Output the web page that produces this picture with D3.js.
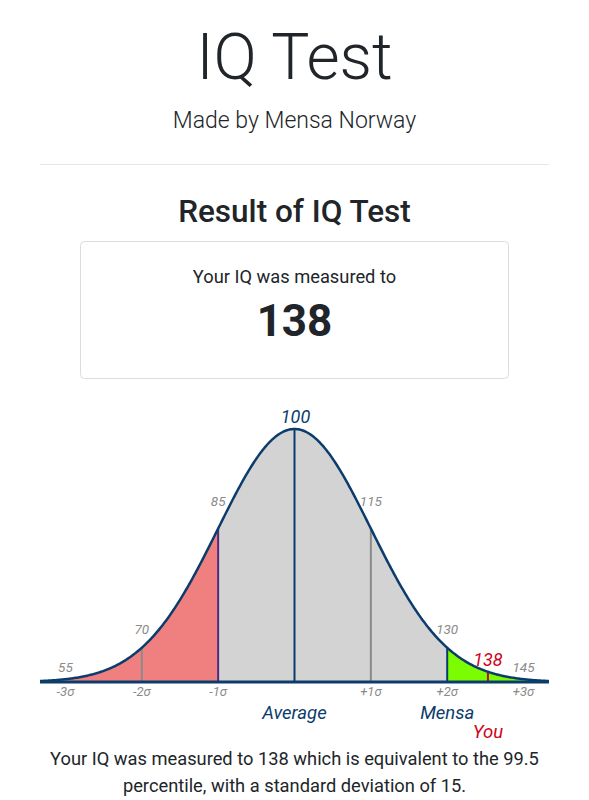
<!DOCTYPE html>
<html>
<head>
<meta charset="utf-8">
<script src="https://cdn.jsdelivr.net/npm/d3@7"></script>
<style>
  html, body { margin: 0; padding: 0; background: #fff; }
  svg { display: block; font-family: Roboto, "Noto Sans", sans-serif; }
</style>
</head>
<body>
<svg id="chart" width="589" height="800"></svg>
<script>
// ---- data ----
const mean = 100;
const sd = 15;
const userIQ = 138;
const domainIQ = [50, 150];
const markerIQs = [55, 70, 85, 100, 115, 130, 145];
const markerLabels = ["55", "70", "85", "100", "115", "130", "145"];
const sigmaIQs = [55, 70, 85, 115, 130, 145];
const sigmaLabels = ["-3σ", "-2σ", "-1σ", "+1σ", "+2σ", "+3σ"];
const lineIQs = [70, 85, 100, 115, 130, userIQ];
const regionStarts = [50, 85, 130];
const regionEnds = [85, 130, 150];
const regionNames = ["low", "normal", "mensa"];
const bottomLabels = ["Average", "Mensa", "You"];
const bottomIQs = [100, 130, userIQ];

// ---- styles ----
const C_BLUE = "#0b3c6b";
const C_TEXT = "#212529";
const C_GRAY = "#8a8a8a";
const C_RED = "#d0021b";
const regionFill = { low: "#f08080", normal: "#d3d3d3", mensa: "#7cfc00" };
const lineColor = { 70: "#8a8a8a", 85: "#512a80", 100: C_BLUE, 115: "#8a8a8a", 130: C_BLUE };

const svg = d3.select("#chart");

// ---- header ----
svg.append("text").attr("x", 294.5).attr("y", 79).attr("text-anchor", "middle")
  .attr("font-size", 64).attr("font-weight", 300).attr("fill", C_TEXT).text("IQ Test");
svg.append("text").attr("x", 294.5).attr("y", 128).attr("text-anchor", "middle")
  .attr("font-size", 23).attr("font-weight", 300).attr("fill", C_TEXT).text("Made by Mensa Norway");
svg.append("line").attr("x1", 40).attr("x2", 549).attr("y1", 164.5).attr("y2", 164.5)
  .attr("stroke", "#e6e6e6").attr("stroke-width", 1);
svg.append("text").attr("x", 294.5).attr("y", 222).attr("text-anchor", "middle")
  .attr("font-size", 31.5).attr("font-weight", 500).attr("fill", C_TEXT).text("Result of IQ Test");

svg.append("rect").attr("x", 80.5).attr("y", 241.5).attr("width", 428).attr("height", 137)
  .attr("rx", 4).attr("fill", "#fff").attr("stroke", "#dcdcdc").attr("stroke-width", 1);
svg.append("text").attr("x", 294.5).attr("y", 283).attr("text-anchor", "middle")
  .attr("font-size", 18.3).attr("font-weight", 400).attr("fill", C_TEXT).text("Your IQ was measured to");
svg.append("text").attr("x", 294.5).attr("y", 336).attr("text-anchor", "middle")
  .attr("font-size", 44).attr("font-weight", 700).attr("fill", C_TEXT).text(String(userIQ));

// ---- chart ----
const x = d3.scaleLinear().domain(domainIQ).range([40, 549]);
const pdf = v => Math.exp(-0.5 * Math.pow((v - mean) / sd, 2)) / (sd * Math.sqrt(2 * Math.PI));
const y = d3.scaleLinear().domain([0, pdf(mean)]).range([682, 429]);

const sample = (a, b) => d3.range(a, b, 0.25).concat([b]);

const area = d3.area().x(d => x(d)).y0(y(0)).y1(d => y(pdf(d))).curve(d3.curveLinear);
regionNames.forEach((name, i) => {
  svg.append("path").datum(sample(regionStarts[i], regionEnds[i]))
    .attr("d", area).attr("fill", regionFill[name]);
});

// vertical lines
lineIQs.forEach(v => {
  svg.append("line").attr("x1", x(v)).attr("x2", x(v))
    .attr("y1", y(0)).attr("y2", y(pdf(v)))
    .attr("stroke", v === userIQ ? C_RED : lineColor[v])
    .attr("stroke-width", 2);
});

// curve
const line = d3.line().x(d => x(d)).y(d => y(pdf(d)));
svg.append("path").datum(sample(domainIQ[0], domainIQ[1]))
  .attr("d", line).attr("fill", "none").attr("stroke", C_BLUE).attr("stroke-width", 2.5);

// baseline axis
svg.append("line").attr("x1", x(domainIQ[0])).attr("x2", x(domainIQ[1]))
  .attr("y1", y(0)).attr("y2", y(0)).attr("stroke", C_BLUE).attr("stroke-width", 3);

// marker labels
const labelY = { 55: 672, 70: 634, 85: 506, 100: 423, 115: 506, 130: 634, 145: 672 };
markerIQs.forEach((v, i) => {
  const isMean = v === mean;
  svg.append("text").attr("x", x(v) + (isMean ? 1 : 0)).attr("y", labelY[v])
    .attr("text-anchor", "middle").attr("font-style", "italic")
    .attr("font-size", isMean ? 18 : 13.5)
    .attr("fill", isMean ? C_BLUE : C_GRAY).text(markerLabels[i]);
});
svg.append("text").attr("x", x(userIQ)).attr("y", 666).attr("text-anchor", "middle")
  .attr("font-style", "italic").attr("font-size", 18).attr("fill", C_RED).text(String(userIQ));

// sigma labels
sigmaIQs.forEach((v, i) => {
  svg.append("text").attr("x", x(v)).attr("y", 695.5).attr("text-anchor", "middle")
    .attr("font-style", "italic").attr("font-size", 13).attr("fill", C_GRAY).text(sigmaLabels[i]);
});

// bottom labels
const bottomY = [718.5, 718.5, 737.5];
bottomLabels.forEach((t, i) => {
  svg.append("text").attr("x", x(bottomIQs[i])).attr("y", bottomY[i]).attr("text-anchor", "middle")
    .attr("font-style", "italic").attr("font-size", 18.5)
    .attr("fill", t === "You" ? C_RED : C_BLUE).text(t);
});

// footer text
svg.append("text").attr("x", 294.5).attr("y", 765).attr("text-anchor", "middle")
  .attr("font-size", 18.3).attr("fill", C_TEXT)
  .text("Your IQ was measured to " + userIQ + " which is equivalent to the 99.5");
svg.append("text").attr("x", 294.5).attr("y", 792).attr("text-anchor", "middle")
  .attr("font-size", 18.3).attr("fill", C_TEXT)
  .text("percentile, with a standard deviation of " + sd + ".");
</script>
</body>
</html>
